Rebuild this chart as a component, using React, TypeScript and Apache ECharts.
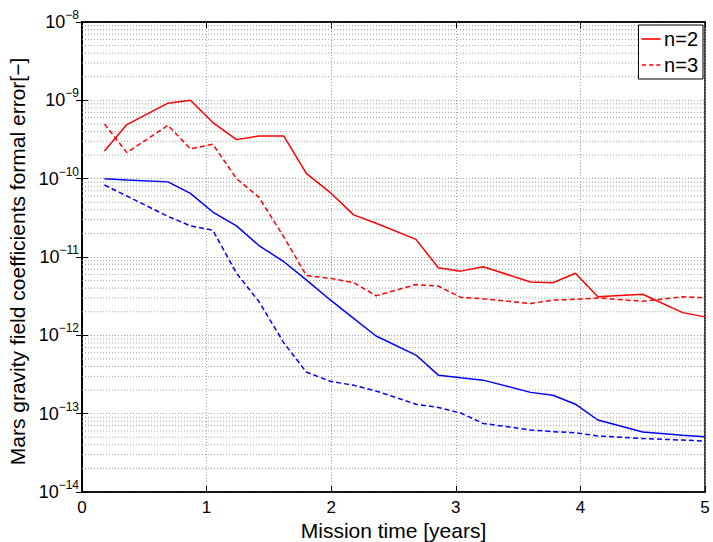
import React, { useEffect, useRef } from "react";
import * as echarts from "echarts";

const years = [0.18, 0.36, 0.69, 0.87, 1.05, 1.24, 1.42, 1.62, 1.8, 1.99, 2.18, 2.36, 2.68, 2.86, 3.04, 3.22, 3.6, 3.78, 3.96, 4.14, 4.5, 4.82, 5.0];

const redN2 = [2.25e-10, 4.9e-10, 9.2e-10, 1.0e-9, 5.2e-10, 3.15e-10, 3.5e-10, 3.5e-10, 1.17e-10, 6.7e-11, 3.45e-11, 2.7e-11, 1.68e-11, 7.3e-12, 6.6e-12, 7.5e-12, 4.8e-12, 4.7e-12, 6.2e-12, 3.1e-12, 3.35e-12, 1.95e-12, 1.72e-12];
const redN3 = [5.0e-10, 2.15e-10, 4.8e-10, 2.4e-10, 2.75e-10, 1.0e-10, 5.8e-11, 1.8e-11, 5.8e-12, 5.35e-12, 4.7e-12, 3.2e-12, 4.45e-12, 4.25e-12, 3.05e-12, 2.92e-12, 2.55e-12, 2.82e-12, 2.88e-12, 3.0e-12, 2.72e-12, 3.1e-12, 3.02e-12];
const blueN2 = [1.0e-10, 9.6e-11, 9.1e-11, 6.5e-11, 3.75e-11, 2.5e-11, 1.4e-11, 8.7e-12, 5.1e-12, 2.85e-12, 1.65e-12, 9.8e-13, 5.6e-13, 3.1e-13, 2.88e-13, 2.68e-13, 1.87e-13, 1.72e-13, 1.32e-13, 8.3e-14, 5.85e-14, 5.3e-14, 5.06e-14];
const blueN3 = [8.3e-11, 6.0e-11, 3.3e-11, 2.5e-11, 2.2e-11, 6.2e-12, 2.7e-12, 8.0e-13, 3.4e-13, 2.6e-13, 2.3e-13, 1.95e-13, 1.32e-13, 1.2e-13, 1.02e-13, 7.5e-14, 6.2e-14, 5.9e-14, 5.7e-14, 5.2e-14, 4.82e-14, 4.6e-14, 4.47e-14];

const xTicks = [0, 1, 2, 3, 4, 5];
const decadeExponents = [-14, -13, -12, -11, -10, -9, -8];
const minorMultipliers = [2, 3, 4, 5, 6, 7, 8, 9];

const legendNames = ["n=2", "n=3"];
const xTitle = "Mission time [years]";
const yTitle = "Mars gravity field coefficients formal error[\u2212]";

const FONT = "'Liberation Sans', Arial, Helvetica, sans-serif";

export default function App() {
  const ref = useRef<HTMLDivElement>(null);
  useEffect(() => {
    if (!ref.current) return;
    const chart = echarts.init(ref.current, undefined, { renderer: "svg" });
    const pair = (arr: number[]) => years.map((x, i) => [x, arr[i]]);
    const minorValues: number[] = [];
    decadeExponents.slice(0, -1).forEach((e) => {
      minorMultipliers.forEach((m) => minorValues.push(m * Math.pow(10, e)));
    });
    const xMin = xTicks[0];
    const xMax = xTicks[xTicks.length - 1];
    const minorGridData: any[] = [];
    minorValues.forEach((v) => {
      minorGridData.push([xMin, v], [xMax, v], [xMax, "-"]);
    });
    const gridLine = { color: "#a0a0a0", width: 1, type: [1, 2] as number[] };

    chart.setOption({
      animation: false,
      backgroundColor: "#ffffff",
      textStyle: { fontFamily: FONT },
      grid: {
        left: 82,
        right: 8,
        top: 22,
        bottom: 50,
        containLabel: false,
        outerBoundsMode: "none",
        show: true,
        borderColor: "#000",
        borderWidth: 1.5,
        backgroundColor: "transparent",
      },
      legend: {
        data: [
          { name: legendNames[0], icon: "path://M0,0H24V2H0Z" },
          { name: legendNames[1], icon: "path://M0,0H5V2H0Z M9,0H14V2H9Z M18,0H23V2H18Z" },
        ],
        orient: "vertical",
        right: 10,
        top: 25,
        backgroundColor: "#fff",
        borderColor: "#000",
        borderWidth: 1,
        borderRadius: 0,
        padding: [4, 5, 4, 3],
        itemGap: 6,
        itemWidth: 24,
        itemHeight: 1.6,
        textStyle: { fontSize: 20, color: "#000", fontFamily: FONT, padding: [0, 0, 0, -4] },
      },
      xAxis: [
        {
          type: "value",
          min: xMin,
          max: xMax,
          interval: 1,
          position: "bottom",
          name: xTitle,
          nameLocation: "middle",
          nameGap: 27,
          nameMoveOverlap: false,
          nameTextStyle: { fontSize: 21, color: "#000", fontFamily: FONT, lineHeight: 22 },
          axisLine: { lineStyle: { color: "#000", width: 1.5 } },
          axisTick: { inside: true, length: 6, lineStyle: { color: "#000" } },
          axisLabel: {
            fontSize: 17,
            color: "#000",
            margin: 6,
            lineHeight: 18,
            formatter: (v: number) => (xTicks.includes(v) ? String(v) : ""),
          },
          splitLine: { show: true, lineStyle: gridLine },
        },
        {
          type: "value",
          min: xMin,
          max: xMax,
          interval: 1,
          position: "top",
          axisLine: { show: true, lineStyle: { color: "#000", width: 1.5 } },
          axisTick: { inside: true, length: 6, lineStyle: { color: "#000" } },
          axisLabel: { show: false },
          splitLine: { show: false },
        },
      ],
      yAxis: [
        {
          type: "log",
          logBase: 10,
          min: 1e-14,
          max: 1e-8,
          position: "left",
          name: yTitle,
          nameLocation: "middle",
          nameGap: 53,
          nameRotate: 90,
          nameTextStyle: { fontSize: 21, color: "#000", fontFamily: FONT, padding: [0, 9, 0, 0] },
          axisLine: { show: true, lineStyle: { color: "#000", width: 1.5 } },
          axisTick: { inside: true, length: 6, lineStyle: { color: "#000" } },
          axisLabel: {
            margin: 3,
            color: "#000",
            formatter: (v: number) => {
              const e = Math.round(Math.log10(v));
              return `{b|10}{e|\u2212${Math.abs(e)}}`;
            },
            rich: {
              b: { fontSize: 18, color: "#000", fontFamily: FONT },
              e: { fontSize: 12, color: "#000", fontFamily: FONT, padding: [0, 0, 14, 0] },
            },
          },
          splitLine: { show: true, lineStyle: gridLine },
        },
        {
          type: "log",
          logBase: 10,
          min: 1e-14,
          max: 1e-8,
          position: "right",
          axisLine: { show: true, lineStyle: { color: "#000", width: 1.5 } },
          axisTick: { inside: true, length: 6, lineStyle: { color: "#000" } },
          axisLabel: { show: false },
          splitLine: { show: false },
        },
      ],
      series: [
        {
          name: "minor grid",
          type: "line",
          data: minorGridData,
          silent: true,
          symbol: "none",
          showSymbol: false,
          connectNulls: false,
          lineStyle: gridLine,
          z: 1,
        },
        {
          name: "n=2",
          type: "line",
          data: pair(redN2),
          showSymbol: false,
          symbol: "none",
          lineStyle: { color: "#ff0000", width: 1.5, type: "solid" },
          itemStyle: { color: "#ff0000" },
          z: 5,
        },
        {
          name: "n=3",
          type: "line",
          data: pair(redN3),
          showSymbol: false,
          symbol: "none",
          lineStyle: { color: "#ff0000", width: 1.5, type: [5, 3] },
          itemStyle: { color: "#ff0000" },
          z: 5,
        },
        {
          name: "n=2 (blue)",
          type: "line",
          data: pair(blueN2),
          showSymbol: false,
          symbol: "none",
          lineStyle: { color: "#0000ff", width: 1.5, type: "solid" },
          itemStyle: { color: "#0000ff" },
          z: 5,
        },
        {
          name: "n=3 (blue)",
          type: "line",
          data: pair(blueN3),
          showSymbol: false,
          symbol: "none",
          lineStyle: { color: "#0000ff", width: 1.5, type: [5, 3] },
          itemStyle: { color: "#0000ff" },
          z: 5,
        },
      ],
    });
    return () => chart.dispose();
  }, []);

  return (
    <div
      ref={ref}
      style={{ position: "absolute", left: 0, top: 0, width: 713, height: 542, background: "#fff" }}
    />
  );
}
